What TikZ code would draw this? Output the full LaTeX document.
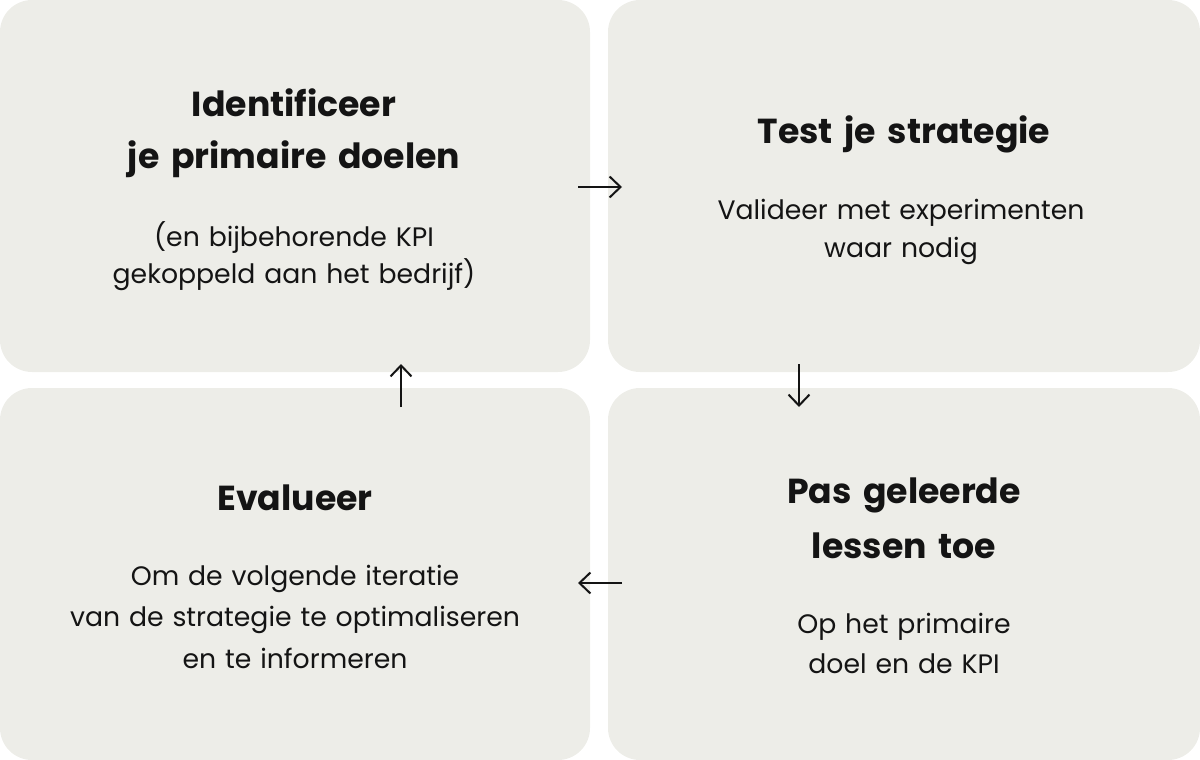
\documentclass[tikz,border=0pt]{standalone}
\usepackage{fontspec}
\setmainfont{Poppins}
\usetikzlibrary{arrows.meta}
\definecolor{boxfill}{HTML}{EDEDE8}
\definecolor{ink}{HTML}{141414}
\begin{document}
\begin{tikzpicture}[x=1pt,y=-1pt,
  card/.style={fill=boxfill,draw=none,rounded corners=32pt,minimum width=#1,minimum height=372pt,inner sep=0pt},
  ttl/.style={text=ink,anchor=base,inner sep=0pt,text width=560pt,align=center,font=\bfseries\fontsize{34.7}{#1}\selectfont},
  bdy/.style={text=ink,anchor=base,inner sep=0pt,text width=560pt,align=center,font=\fontsize{26.7}{#1}\selectfont},
  flow/.style={draw=ink,line width=2pt,-{Straight Barb[length=11pt,width=21pt,line width=2pt]}}]
\useasboundingbox (0,0) rectangle (1200,760);
\node[card=590pt] (tl) at (295,186) {};
\node[card=592pt] (tr) at (904,186) {};
\node[card=590pt] (bl) at (295,574) {};
\node[card=592pt] (br) at (904,574) {};
% texts
\node[ttl=52pt] (tlt) at (294,117) {Identificeer\\je primaire doelen};
\node[bdy=37pt] (tlb) at (294,246) {(en bijbehorende KPI\\gekoppeld aan het bedrijf)};
\node[ttl=52pt] (trt) at (904,143) {Test je strategie};
\node[bdy=38pt] (trb) at (901,219) {Valideer met experimenten\\waar nodig};
\node[ttl=52pt] (blt) at (295,510) {Evalueer};
\node[bdy=41.5pt] (blb) at (295,585) {Om de volgende iteratie\\van de strategie te optimaliseren\\en te informeren};
\node[ttl=55pt] (brt) at (904,503) {Pas geleerde\\lessen toe};
\node[bdy=40pt] (brb) at (904,633) {Op het primaire\\doel en de KPI};
% arrows
\coordinate (a1s) at (578,187); \coordinate (a1e) at (622,187);
\coordinate (a2s) at (799,364); \coordinate (a2e) at (799,407);
\coordinate (a3s) at (622,583); \coordinate (a3e) at (578,583);
\coordinate (a4s) at (401,407); \coordinate (a4e) at (401,364);
\draw[flow] (a1s) -- (a1e);
\draw[flow] (a2s) -- (a2e);
\draw[flow] (a3s) -- (a3e);
\draw[flow] (a4s) -- (a4e);
\end{tikzpicture}
\end{document}
